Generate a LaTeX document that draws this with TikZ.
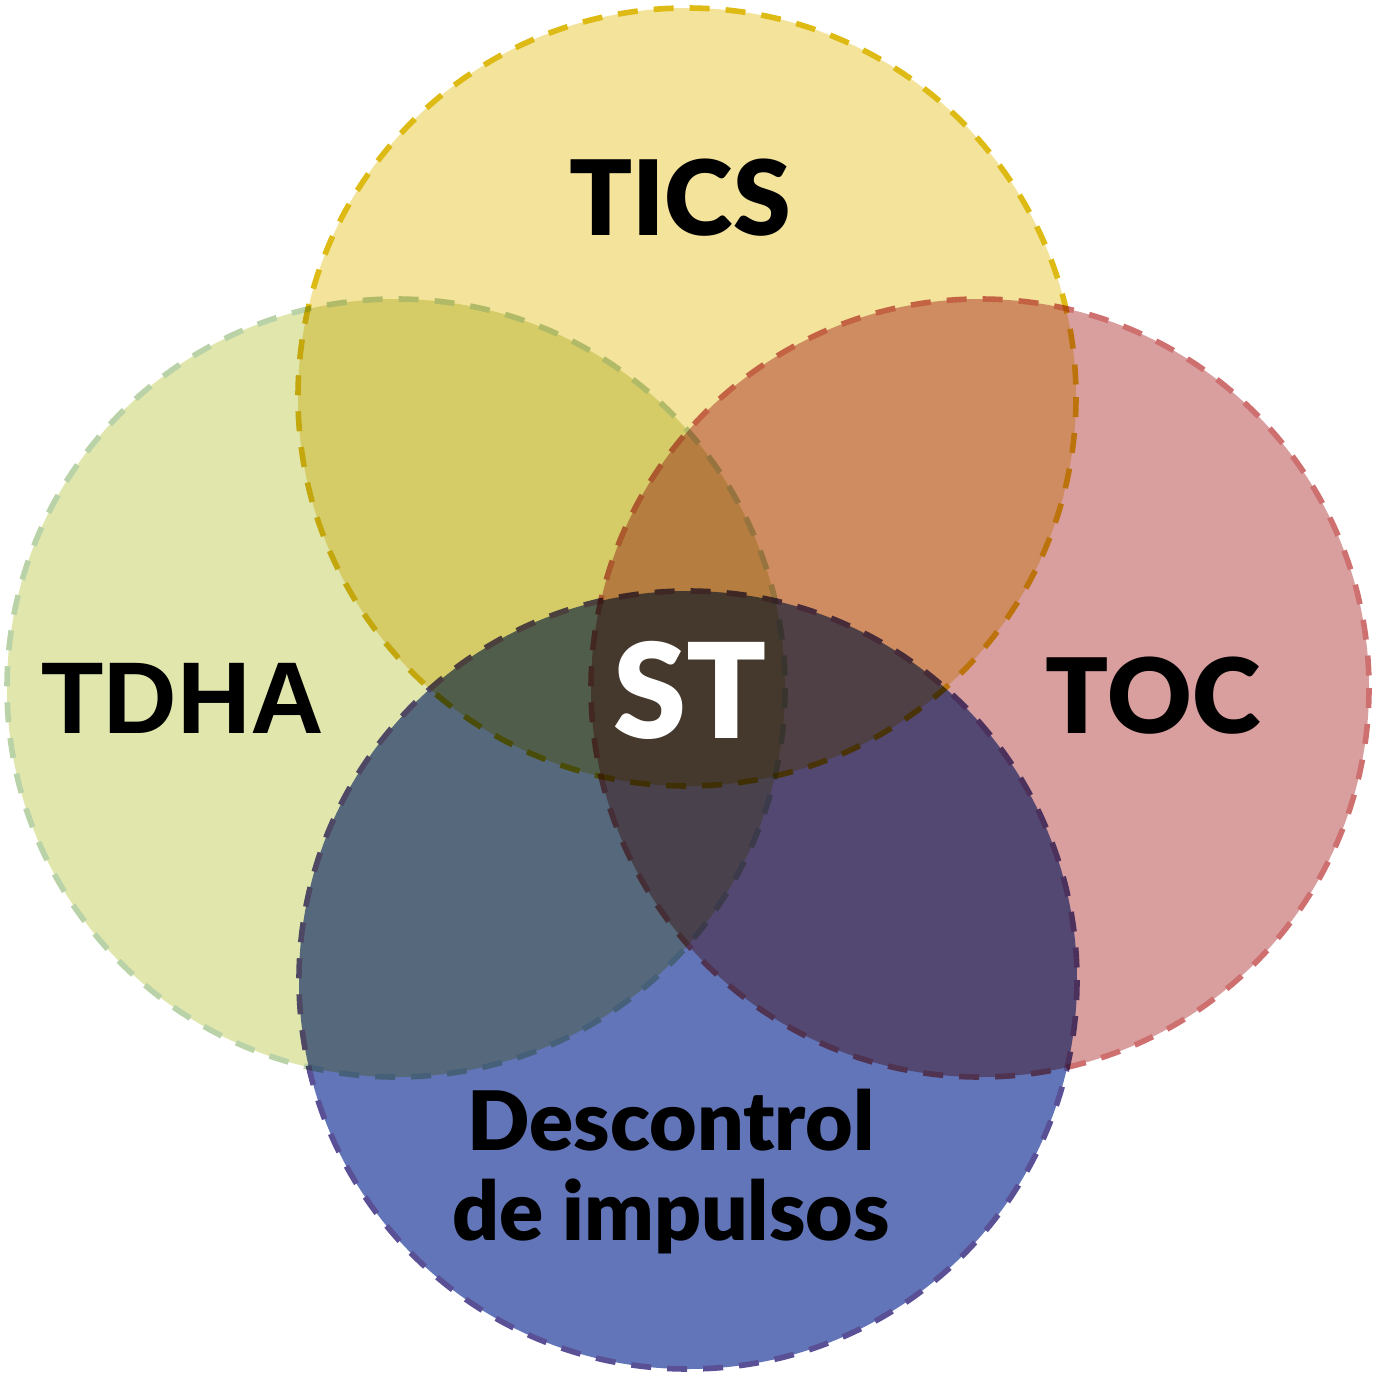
\documentclass[tikz,border=0pt]{standalone}
\usepackage{fontspec}
\newfontfamily\lb{Lato Black}
\newfontfamily\hv{Liberation Sans}
\definecolor{tf}{RGB}{243,227,155}
\definecolor{lf}{RGB}{224,230,172}
\definecolor{rf}{RGB}{217,158,158}
\definecolor{bf}{RGB}{98,117,184}
\definecolor{tb}{RGB}{222,186,20}
\definecolor{lbd}{RGB}{186,210,168}
\definecolor{rb}{RGB}{206,112,112}
\definecolor{bb}{RGB}{90,80,150}
\tikzset{
  rim/.style={line width=2.8pt, dash pattern=on 10pt off 8pt},
  lab/.style={font=\lb\fontsize{52}{56}\selectfont, text=black, inner sep=0pt, anchor=base}
}
\begin{document}
\begin{tikzpicture}[x=0.5pt,y=-0.5pt]
\useasboundingbox (0,0) rectangle (1376,1377);
\coordinate (T) at (687,397);
\coordinate (L) at (396,688);
\coordinate (R) at (980,688);
\coordinate (B) at (688,980);
\begin{scope}[blend group=multiply]
  \begin{scope}[transparency group]
    \fill[tf] (T) circle[radius=389];
    \draw[rim, tb] (T) circle[radius=389];
  \end{scope}
  \begin{scope}[transparency group]
    \fill[lf] (L) circle[radius=389];
    \draw[rim, lbd] (L) circle[radius=389];
  \end{scope}
  \begin{scope}[transparency group]
    \fill[rf] (R) circle[radius=389];
    \draw[rim, rb] (R) circle[radius=389];
  \end{scope}
  \begin{scope}[transparency group]
    \fill[bf] (B) circle[radius=389];
    \draw[rim, bb] (B) circle[radius=389];
  \end{scope}
\end{scope}
\node[lab] (tics) at (680,235) {TICS};
\node[lab, font=\hv\bfseries\fontsize{51}{55}\selectfont] (tdha) at (183,733) {TDHA};
\node[lab] (toc) at (1153,733) {TOC};
\node[lab, text=white, font=\lb\fontsize{66}{70}\selectfont] (st) at (690,738) {ST};
\node[lab, font=\lb\fontsize{41}{45}\selectfont] (dc1) at (671,1150) {Descontrol};
\node[lab, font=\lb\fontsize{41}{45}\selectfont] (dc2) at (671,1240) {de impulsos};
\end{tikzpicture}
\end{document}
